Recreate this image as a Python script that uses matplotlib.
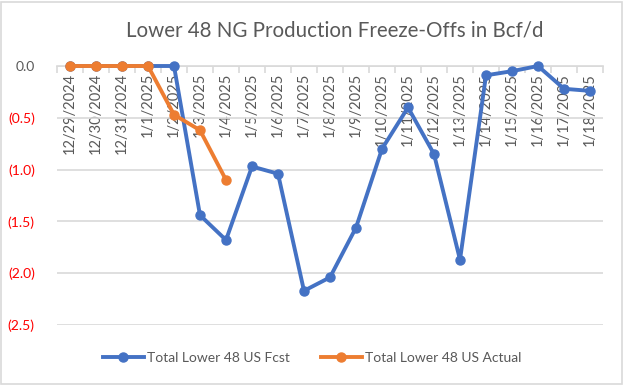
import numpy as np
import matplotlib.pyplot as plt
from matplotlib.ticker import FixedLocator, FuncFormatter

plt.rcParams['font.family'] = ['Lato', 'DejaVu Sans']

dates = ["12/29/2024", "12/30/2024", "12/31/2024", "1/1/2025", "1/2/2025", "1/3/2025",
         "1/4/2025", "1/5/2025", "1/6/2025", "1/7/2025", "1/8/2025", "1/9/2025",
         "1/10/2025", "1/11/2025", "1/12/2025", "1/13/2025", "1/14/2025", "1/15/2025",
         "1/16/2025", "1/17/2025", "1/18/2025"]
fcst = [0.0, 0.0, 0.0, 0.0, 0.0, -1.44, -1.68, -0.97, -1.04, -2.17, -2.04, -1.56,
        -0.80, -0.40, -0.85, -1.87, -0.09, -0.05, 0.0, -0.22, -0.24]
actual = [0.0, 0.0, 0.0, 0.0, -0.47, -0.62, -1.10]

blue = "#4472C4"
orange = "#ED7D31"
grey = "#595959"

fig = plt.figure(figsize=(6.24, 3.86), dpi=100)
ax = fig.add_axes([57 / 624, 61 / 386, 546 / 624, 259 / 386])

x = np.arange(len(dates))
ax.plot(x, fcst, color=blue, lw=2.8, marker="o", ms=6.5, label="Total Lower 48 US Fcst",
        solid_joinstyle="round", zorder=3, clip_on=False)
ax.plot(x[:len(actual)], actual, color=orange, lw=2.8, marker="o", ms=6.5,
        label="Total Lower 48 US Actual", solid_joinstyle="round", zorder=4, clip_on=False)

ax.set_xlim(-0.5, len(dates) - 0.5)
ax.set_ylim(-2.5, 0.0)
ax.set_yticks(np.arange(-2.5, 0.01, 0.5))
ax.yaxis.set_major_formatter(FuncFormatter(lambda v, p: "0.0" if abs(v) < 1e-9 else f"({abs(v):.1f})"))
ax.grid(axis="y", color="#D9D9D9", lw=1.2)
ax.set_axisbelow(True)
for s in ["top", "right", "left"]:
    ax.spines[s].set_visible(False)
ax.spines["bottom"].set_position(("data", 0))
ax.spines["bottom"].set_color("#D9D9D9")
ax.spines["bottom"].set_linewidth(1.2)
ax.spines["bottom"].set_zorder(1)

ax.set_xticks(x)
ax.set_xticklabels(dates, rotation=90, fontsize=10.5, color=grey)
ax.tick_params(axis="x", which="major", length=0, pad=5)
ax.xaxis.set_minor_locator(FixedLocator(np.arange(-0.5, len(dates), 1.0)))
ax.tick_params(axis="x", which="minor", length=5, color="#D9D9D9", width=1.2)
ax.tick_params(axis="y", length=0, pad=16, labelsize=10)
for t, v in zip(ax.get_yticklabels(), ax.get_yticks()):
    t.set_color(grey if abs(v) < 1e-9 else "#FF0000")

fig.text(0.537, 0.92, "Lower 48 NG Production Freeze-Offs in Bcf/d", ha="center", va="center",
         fontsize=14.8, color=grey)

fig.legend(loc="center", bbox_to_anchor=(0.5, 0.072), ncol=2, frameon=False, fontsize=10,
           labelcolor=grey, handlelength=3.0, columnspacing=2.2, handletextpad=0.2)

fig.patches.append(plt.Rectangle((0.002, 0.004), 0.994, 0.992, transform=fig.transFigure,
                                 fill=False, edgecolor="#D9D9D9", lw=1.2))

fig.savefig("out.png", dpi=100)
